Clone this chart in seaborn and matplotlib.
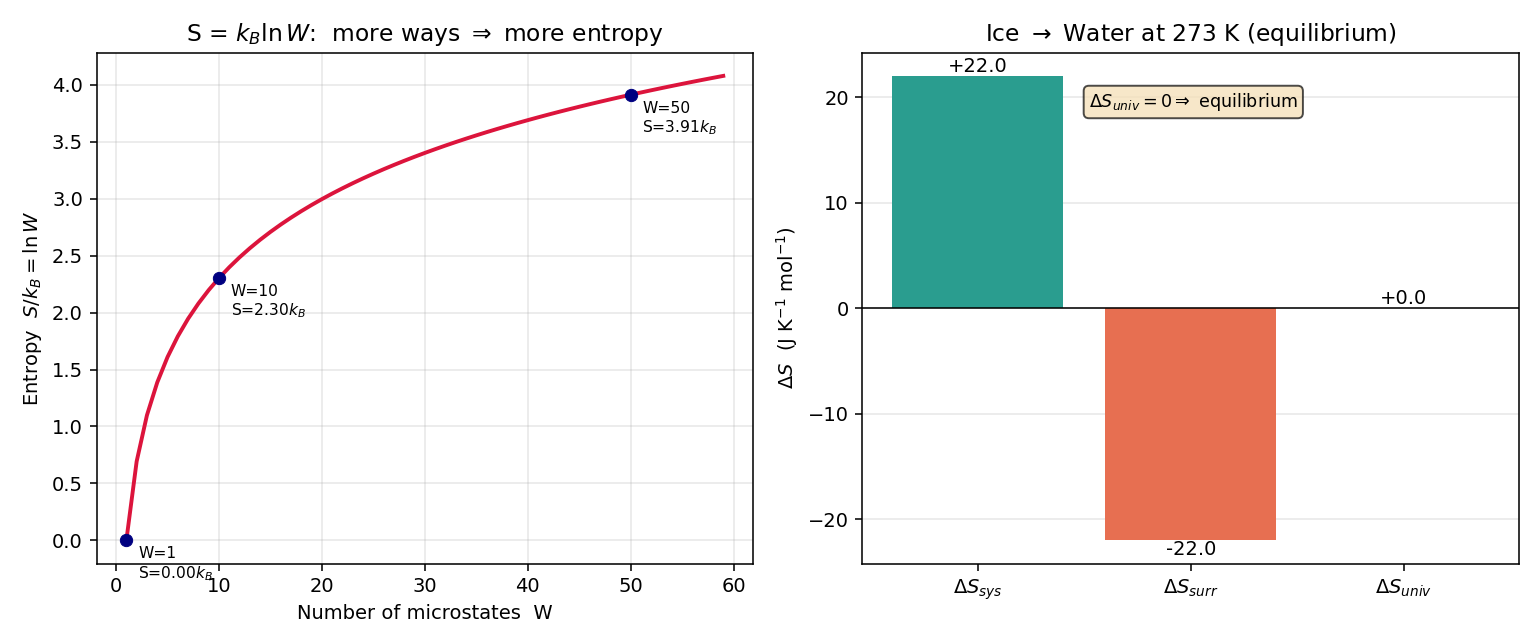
import numpy as np
import pandas as pd
import seaborn as sns
import matplotlib.pyplot as plt

# microstates and the marked points
W = np.arange(1, 60)
S = np.log(W)
W_marks = [1, 10, 50]

# ice -> water at 273 K
terms = [r"$\Delta S_{sys}$", r"$\Delta S_{surr}$", r"$\Delta S_{univ}$"]
dS = [22.0, -22.0, 0.0]
bar_colors = ["#2a9d8f", "#e76f51", "#8ab17d"]

fig, (ax1, ax2) = plt.subplots(1, 2, figsize=(11, 4.6), dpi=140)

# left: S = k ln W
sns.lineplot(x=W, y=S, ax=ax1, color="crimson", linewidth=2)
marks = np.log(W_marks)
sns.scatterplot(x=W_marks, y=marks, ax=ax1, color="navy", s=40, zorder=5, edgecolor="navy")
for w, s in zip(W_marks, marks):
    ax1.annotate(f"W={w}\nS={s:.2f}$k_B$", (w, s), xytext=(6, -3),
                 textcoords="offset points", fontsize=8, va="top")
ax1.set_xlabel("Number of microstates  W")
ax1.set_ylabel(r"Entropy  $S/k_B = \ln W$")
ax1.set_title(r"S = $k_B \ln W$:  more ways $\Rightarrow$ more entropy", fontsize=12)
ax1.grid(alpha=0.3)

# right: entropy balance
df = pd.DataFrame({"term": terms, "dS": dS})
sns.barplot(data=df, x="term", y="dS", hue="term", palette=bar_colors,
            legend=False, ax=ax2, width=0.8, saturation=1)
for p, v in zip(ax2.patches, dS):
    y = p.get_height()
    ax2.text(p.get_x() + p.get_width() / 2, y, f"{v:+.1f}" if v >= 0 else f"{v:.1f}",
             ha="center", va="bottom" if v >= 0 else "top", fontsize=10)
ax2.axhline(0, color="black", linewidth=0.8)
ax2.set_xlim(-0.54, 2.54)
ax2.set_ylim(-24.2, 24.2)
ax2.set_xlabel("")
ax2.set_ylabel(r"$\Delta S$  (J K$^{-1}$ mol$^{-1}$)")
ax2.set_title(r"Ice $\rightarrow$ Water at 273 K (equilibrium)", fontsize=12)
ax2.grid(axis="y", alpha=0.3)
ax2.set_axisbelow(True)
ax2.text(0.345, 0.925, r"$\Delta S_{univ} = 0 \Rightarrow$ equilibrium", transform=ax2.transAxes,
         fontsize=9, va="top",
         bbox=dict(boxstyle="round", facecolor="wheat", alpha=0.7))

plt.tight_layout()
plt.savefig("out.png")
